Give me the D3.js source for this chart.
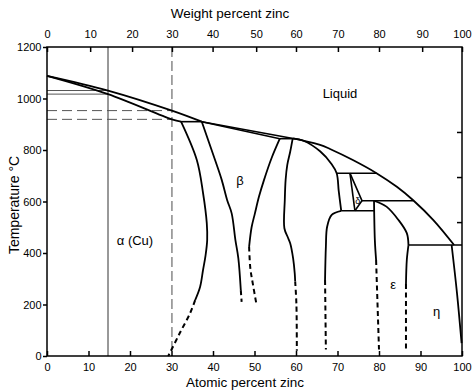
<!DOCTYPE html>
<html>
<head>
<meta charset="utf-8">
<script src="https://cdn.jsdelivr.net/npm/d3@7/dist/d3.min.js"></script>
<style>
body { margin: 0; background: #fff; }
text { font-family: "Liberation Sans", Arial, sans-serif; fill: #000; }
</style>
</head>
<body>
<div id="chart"></div>
<script>
// axis ticks
var atomicTicks = [0, 10, 20, 30, 40, 50, 60, 70, 80, 90, 100];
var weightTicks = [0, 10, 20, 30, 40, 50, 60, 70, 80, 90, 100];
// where each weight tick sits on the atomic scale
var weightTickAt = [0, 10.4, 20.5, 30.1, 39.9, 50.4, 60, 70.1, 80, 90.4, 100];
var tempTicks = [0, 200, 400, 600, 800, 1000, 1200];
var rightTicks = [870, 695, 520];

// phase boundaries, [atomic % Zn, temperature C]
var liquidusA = [[0, 1088], [14.7, 1031], [30.1, 953], [37.3, 910]];
var liquidusB = [[37.3, 910], [59.3, 845]];
var liquidusC = [[59.3, 845], [61, 839], [65.8, 820], [68.2, 804], [73.7, 761], [79.4, 710], [84.3, 657], [88.3, 604], [93.1, 528], [98.1, 431]];
var solidusAlpha = [[0, 1088], [14.7, 1017], [30.1, 919], [32.3, 910]];
var betaSolidus = [[37.3, 910], [56.1, 844]];
var alphaSolvus = [[32.3, 910], [36.1, 761], [37.6, 633], [38.5, 516], [38.6, 450], [38.2, 390], [37.6, 334], [36.9, 269], [35.7, 217]];
var alphaSolvusDash = [[35.7, 217], [34.5, 167], [32.0, 89], [29.6, 12], [29.2, 0]];
var betaLeft = [[37.3, 910], [40.5, 761], [42.1, 684], [43.4, 606], [44.5, 554], [45.4, 450], [46.1, 380], [46.7, 256]];
var betaLeftDash = [[46.7, 256], [46.9, 210]];
var betaRight = [[56.1, 844], [54.1, 768], [52.3, 684], [51.1, 620], [50.1, 554], [49.3, 500], [48.7, 424]];
var betaRightDash = [[48.7, 424], [49.0, 340], [49.6, 280], [50.5, 198]];
var gammaLeft = [[59.2, 844], [58.6, 793], [57.9, 742], [57.5, 684], [57.3, 606], [57.2, 496], [58.0, 462], [58.6, 438], [59.3, 380], [59.7, 320], [59.8, 290]];
var gammaLeftDash = [[59.8, 290], [60.1, 200], [60.2, 20]];
var gammaRightUpper = [[59.3, 844], [61.8, 836], [65.8, 795], [68.6, 745], [69.8, 710], [70.3, 640], [70.9, 564]];
var gammaRightLower = [[70.9, 564], [68.6, 548], [67.5, 502], [67.2, 424], [67.0, 295]];
var gammaRightDash = [[67.0, 295], [67.2, 25]];
var deltaLeft = [[73.0, 710], [74.2, 564]];
var deltaRight = [[73.0, 710], [75.9, 603], [74.2, 564]];
var epsLeft = [[78.8, 603], [79.0, 450], [79.3, 373]];
var epsLeftDash = [[79.3, 373], [80.0, 25]];
var epsSolidus = [[78.8, 603], [81.8, 580], [84.7, 528], [86.7, 477], [87.1, 431]];
var epsRight = [[87.1, 431], [86.7, 373], [86.5, 280]];
var epsRightDash = [[86.5, 280], [86.5, 25]];
var etaSolvus = [[97.5, 431], [98.8, 243], [99.9, 50]];

// horizontal invariant lines: [temperature, from %, to %]
var isotherms = [[910, 32.3, 37.3], [844, 56.1, 59.3], [710, 69.8, 79.4], [603, 75.9, 88.3], [564, 70.9, 78.9], [431, 87.1, 100]];

// alloy reference lines (15 and 30 wt% Zn)
var alloySolid = 14.7, alloySolidT = [1031, 1017];
var alloyDash = 30.1, alloyDashT = [953, 919];

// phase labels
var phaseText = ["Liquid", "\u03b2", "\u03b1 (Cu)", "\u03b4", "\u03b5", "\u03b7"];
var phaseAt = [70.6, 46.5, 21.2, 74.9, 83.4, 93.9];
var phaseT = [1021, 680, 447, 601, 276, 172];
var phaseSize = [13, 13, 13, 9, 13, 13];

var width = 474, height = 392;
var svg = d3.select('#chart').append('svg')
    .attr('width', width)
    .attr('height', height);

var x = d3.scaleLinear().domain([0, 100]).range([47, 462]);
var y = d3.scaleLinear().domain([0, 1200]).range([356, 47]);

var curved = d3.line()
    .x(function(d) { return x(d[0]); })
    .y(function(d) { return y(d[1]); })
    .curve(d3.curveCatmullRom.alpha(0.5));
var straight = d3.line()
    .x(function(d) { return x(d[0]); })
    .y(function(d) { return y(d[1]); });

// reference lines first so boundaries sit on top
svg.append('line')
    .attr('x1', x(alloySolid)).attr('x2', x(alloySolid))
    .attr('y1', y(1200)).attr('y2', y(0))
    .attr('stroke', '#333').attr('stroke-width', 1);
svg.append('line')
    .attr('x1', x(alloyDash)).attr('x2', x(alloyDash))
    .attr('y1', y(1200)).attr('y2', y(0))
    .attr('stroke', '#888').attr('stroke-width', 1.5)
    .style('stroke-dasharray', '10,4');
alloySolidT.forEach(function(t) {
    svg.append('line')
        .attr('x1', x(0)).attr('x2', x(alloySolid))
        .attr('y1', y(t)).attr('y2', y(t))
        .attr('stroke', '#555').attr('stroke-width', 1);
});
alloyDashT.forEach(function(t) {
    svg.append('line')
        .attr('x1', x(0)).attr('x2', x(alloyDash))
        .attr('y1', y(t)).attr('y2', y(t))
        .attr('stroke', '#555').attr('stroke-width', 1)
        .style('stroke-dasharray', '10,5');
});

var solidCurves = [liquidusA, liquidusC, solidusAlpha, alphaSolvus, betaLeft, betaRight,
    gammaLeft, gammaRightUpper, gammaRightLower, epsLeft, epsSolidus, epsRight, etaSolvus];
var straightLines = [liquidusB, betaSolidus, deltaLeft, deltaRight];
var dashCurves = [alphaSolvusDash, betaLeftDash, betaRightDash, gammaLeftDash, gammaRightDash, epsLeftDash, epsRightDash];

svg.selectAll('path.solid')
    .data(solidCurves)
    .enter()
    .append('path')
    .attr('class', 'solid')
    .attr('d', curved)
    .attr('fill', 'none')
    .attr('stroke', '#000')
    .attr('stroke-width', 1.8);

svg.selectAll('path.straight')
    .data(straightLines)
    .enter()
    .append('path')
    .attr('class', 'straight')
    .attr('d', straight)
    .attr('fill', 'none')
    .attr('stroke', '#000')
    .attr('stroke-width', 1.6);

svg.selectAll('path.dash')
    .data(dashCurves)
    .enter()
    .append('path')
    .attr('class', 'dash')
    .attr('d', curved)
    .attr('fill', 'none')
    .attr('stroke', '#000')
    .attr('stroke-width', 2)
    .style('stroke-dasharray', '5,3.5');

svg.selectAll('line.iso')
    .data(isotherms)
    .enter()
    .append('line')
    .attr('class', 'iso')
    .attr('x1', function(d) { return x(d[1]); })
    .attr('x2', function(d) { return x(d[2]); })
    .attr('y1', function(d) { return y(d[0]); })
    .attr('y2', function(d) { return y(d[0]); })
    .attr('stroke', '#000')
    .attr('stroke-width', 1.6);

// phase labels
svg.selectAll('text.phase')
    .data(phaseText)
    .enter()
    .append('text')
    .attr('class', 'phase')
    .attr('x', function(d, i) { return x(phaseAt[i]); })
    .attr('y', function(d, i) { return y(phaseT[i]); })
    .attr('text-anchor', 'middle')
    .attr('dominant-baseline', 'central')
    .style('font-size', function(d, i) { return phaseSize[i] + 'px'; })
    .text(function(d) { return d; });

// frame
svg.append('rect')
    .attr('x', x(0)).attr('y', y(1200))
    .attr('width', x(100) - x(0)).attr('height', y(0) - y(1200))
    .attr('fill', 'none')
    .attr('stroke', '#000')
    .attr('stroke-width', 1.5);

// axes
var bottomAxis = d3.axisBottom(x).tickValues(atomicTicks).tickSize(-5).tickPadding(7)
    .tickFormat(d3.format('d'));
var gB = svg.append('g').attr('transform', 'translate(0,' + y(0) + ')').call(bottomAxis);

var topAxis = d3.axisTop(x).tickValues(weightTickAt).tickSize(-5).tickPadding(9)
    .tickFormat(function(d, i) { return weightTicks[i]; });
var gT = svg.append('g').attr('transform', 'translate(0,' + y(1200) + ')').call(topAxis);

var leftAxis = d3.axisLeft(y).tickValues(tempTicks).tickSize(4).tickPadding(1.5)
    .tickFormat(d3.format('d'));
var gL = svg.append('g').attr('transform', 'translate(' + x(0) + ',0)').call(leftAxis);

var rightAxis = d3.axisRight(y).tickValues(rightTicks).tickSize(-5).tickFormat('');
var gR = svg.append('g').attr('transform', 'translate(' + x(100) + ',0)').call(rightAxis);

[gB, gT, gL, gR].forEach(function(g) {
    g.select('.domain').remove();
    g.selectAll('line').attr('stroke', '#000').attr('stroke-width', 1.5);
    g.selectAll('text')
        .style('font-family', '"Liberation Sans", Arial, sans-serif')
        .style('font-size', '11px')
        .attr('fill', '#000');
});

// axis titles
svg.append('text')
    .attr('x', 230).attr('y', 18)
    .attr('text-anchor', 'middle')
    .style('font-size', '13.5px')
    .text('Weight percent zinc');
svg.append('text')
    .attr('x', 245).attr('y', 387)
    .attr('text-anchor', 'middle')
    .style('font-size', '13.5px')
    .text('Atomic percent zinc');
svg.append('text')
    .attr('transform', 'translate(14,205) rotate(-90)')
    .attr('text-anchor', 'middle')
    .attr('dominant-baseline', 'central')
    .style('font-size', '14px')
    .text('Temperature \u00b0C');
</script>
</body>
</html>
